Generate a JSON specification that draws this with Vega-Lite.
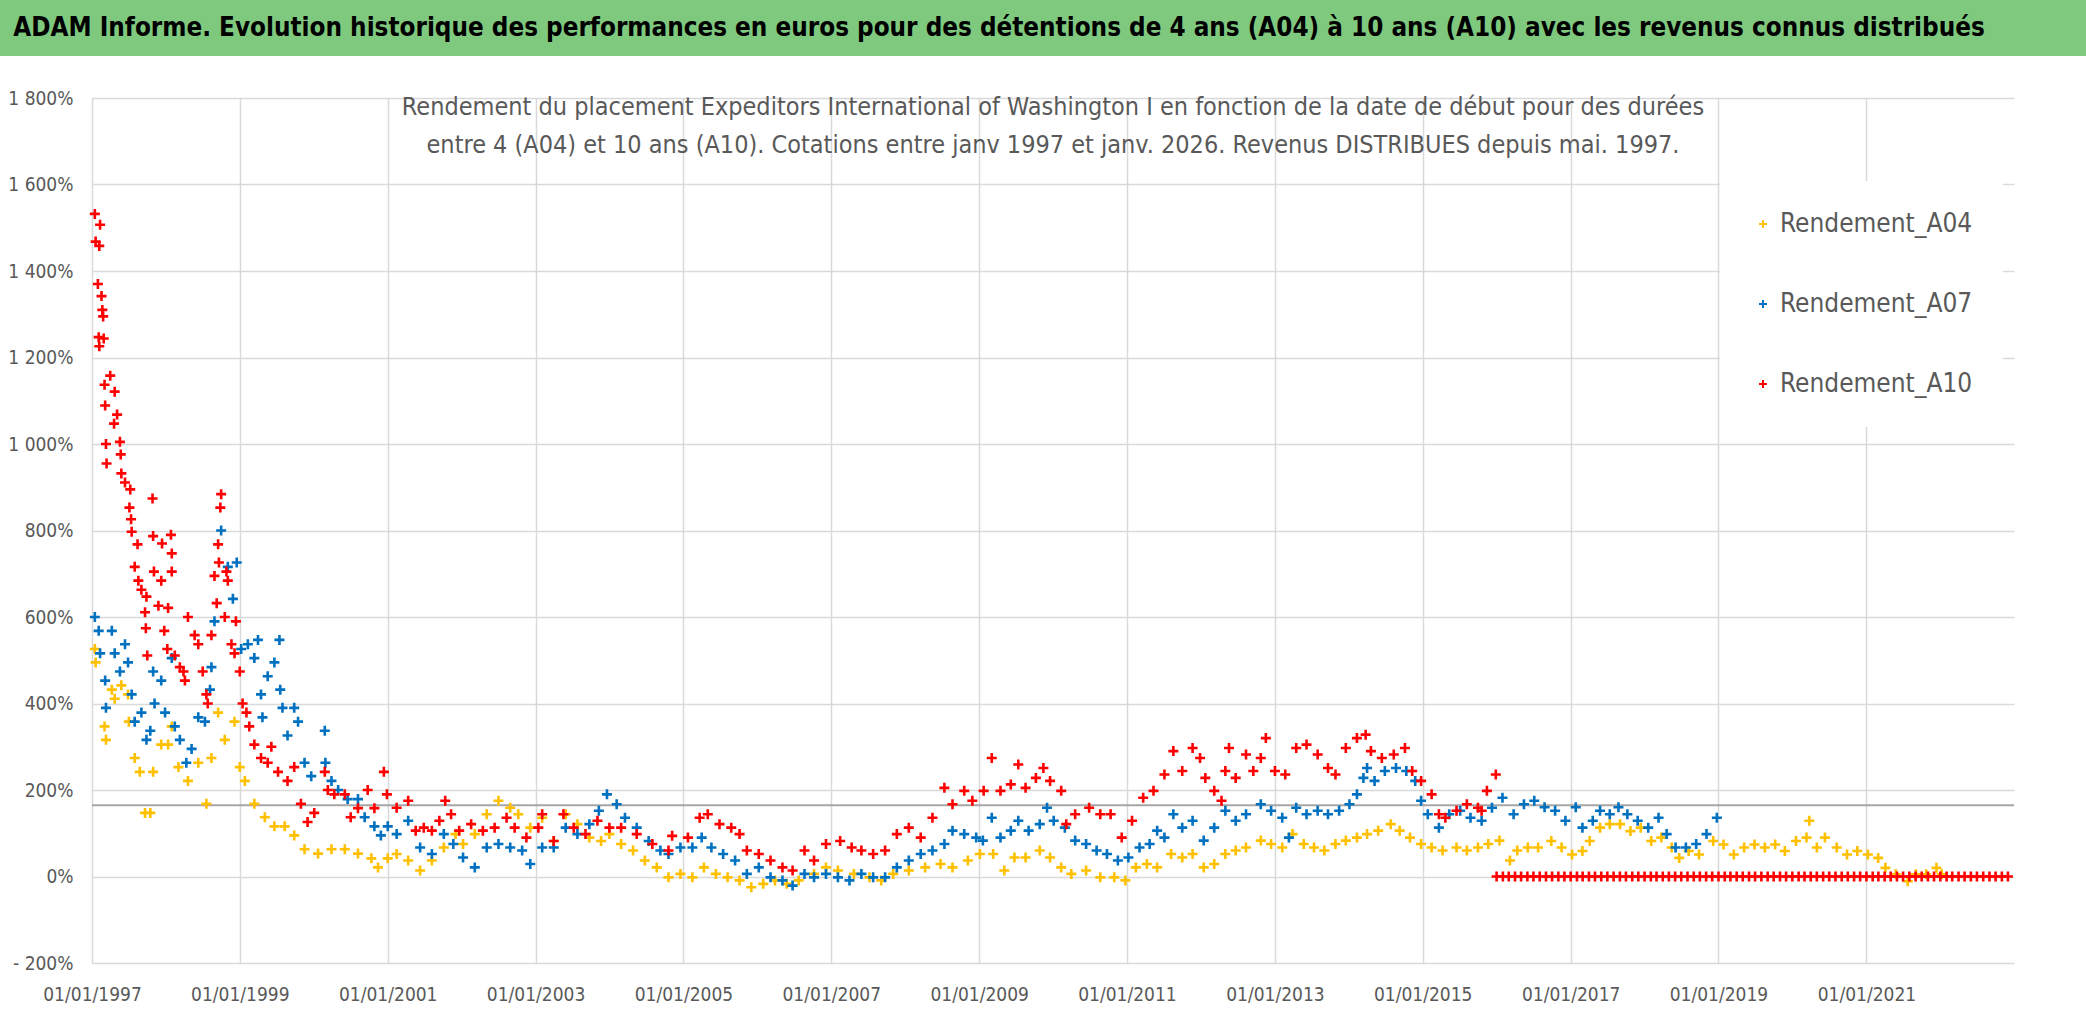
{
  "$schema": "https://vega.github.io/schema/vega-lite/v6.json",
  "padding": 0,
  "background": "white",
  "spacing": 42,
  "bounds": "flush",
  "center": true,
  "config": {
    "view": {"stroke": null},
    "font": "DejaVu Sans Condensed"
  },
  "datasets": {
    "returns": [
      {"d":"1997-01-15","s":"A04","v":526},{"d":"1997-01-19","s":"A04","v":495},{"d":"1997-03-04","s":"A04","v":347},{"d":"1997-03-11","s":"A04","v":316},{"d":"1997-04-09","s":"A04","v":432},{"d":"1997-04-23","s":"A04","v":411},{"d":"1997-05-26","s":"A04","v":442},{"d":"1997-06-28","s":"A04","v":421},{"d":"1997-07-02","s":"A04","v":358},{"d":"1997-07-31","s":"A04","v":274},{"d":"1997-08-25","s":"A04","v":242},{"d":"1997-09-20","s":"A04","v":147},{"d":"1997-10-16","s":"A04","v":147},{"d":"1997-10-30","s":"A04","v":242},{"d":"1997-12-09","s":"A04","v":305},{"d":"1998-01-12","s":"A04","v":305},{"d":"1998-01-30","s":"A04","v":347},{"d":"1998-03-04","s":"A04","v":253},{"d":"1998-04-20","s":"A04","v":221},{"d":"1998-06-10","s":"A04","v":263},{"d":"1998-07-20","s":"A04","v":168},{"d":"1998-08-14","s":"A04","v":274},{"d":"1998-09-16","s":"A04","v":379},{"d":"1998-10-19","s":"A04","v":316},{"d":"1998-12-06","s":"A04","v":358},{"d":"1999-01-01","s":"A04","v":253},{"d":"1999-01-26","s":"A04","v":221},{"d":"1999-03-14","s":"A04","v":168},{"d":"1999-05-05","s":"A04","v":137},{"d":"1999-06-21","s":"A04","v":116},{"d":"1999-08-11","s":"A04","v":116},{"d":"1999-09-27","s":"A04","v":95},{"d":"1999-11-17","s":"A04","v":63},{"d":"2000-01-23","s":"A04","v":53},{"d":"2000-03-29","s":"A04","v":63},{"d":"2000-06-03","s":"A04","v":63},{"d":"2000-08-07","s":"A04","v":53},{"d":"2000-10-12","s":"A04","v":42},{"d":"2000-11-14","s":"A04","v":21},{"d":"2001-01-01","s":"A04","v":42},{"d":"2001-02-14","s":"A04","v":52},{"d":"2001-04-12","s":"A04","v":37},{"d":"2001-06-10","s":"A04","v":14},{"d":"2001-08-07","s":"A04","v":37},{"d":"2001-10-05","s":"A04","v":67},{"d":"2001-12-02","s":"A04","v":98},{"d":"2002-01-08","s":"A04","v":75},{"d":"2002-03-07","s":"A04","v":98},{"d":"2002-05-05","s":"A04","v":144},{"d":"2002-07-02","s":"A04","v":175},{"d":"2002-08-29","s":"A04","v":159},{"d":"2002-10-08","s":"A04","v":144},{"d":"2002-12-06","s":"A04","v":113},{"d":"2003-02-03","s":"A04","v":136},{"d":"2003-04-01","s":"A04","v":82},{"d":"2003-05-30","s":"A04","v":144},{"d":"2003-07-27","s":"A04","v":121},{"d":"2003-09-24","s":"A04","v":90},{"d":"2003-11-21","s":"A04","v":82},{"d":"2004-01-01","s":"A04","v":98},{"d":"2004-02-28","s":"A04","v":75},{"d":"2004-04-27","s":"A04","v":60},{"d":"2004-06-24","s":"A04","v":37},{"d":"2004-08-22","s":"A04","v":21},{"d":"2004-10-19","s":"A04","v":-2},{"d":"2004-12-17","s":"A04","v":6},{"d":"2005-02-14","s":"A04","v":-2},{"d":"2005-04-12","s":"A04","v":21},{"d":"2005-06-10","s":"A04","v":6},{"d":"2005-08-07","s":"A04","v":-2},{"d":"2005-10-05","s":"A04","v":-9},{"d":"2005-12-02","s":"A04","v":-25},{"d":"2006-01-30","s":"A04","v":-17},{"d":"2006-03-29","s":"A04","v":-9},{"d":"2006-05-26","s":"A04","v":-17},{"d":"2006-07-24","s":"A04","v":-9},{"d":"2006-10-08","s":"A04","v":6},{"d":"2006-12-06","s":"A04","v":21},{"d":"2007-02-03","s":"A04","v":14},{"d":"2007-04-23","s":"A04","v":6},{"d":"2007-07-09","s":"A04","v":-2},{"d":"2007-09-05","s":"A04","v":-9},{"d":"2007-11-03","s":"A04","v":6},{"d":"2008-01-19","s":"A04","v":14},{"d":"2008-04-09","s":"A04","v":21},{"d":"2008-06-24","s":"A04","v":29},{"d":"2008-08-22","s":"A04","v":21},{"d":"2008-11-06","s":"A04","v":37},{"d":"2009-01-04","s":"A04","v":52},{"d":"2009-03-11","s":"A04","v":52},{"d":"2009-05-05","s":"A04","v":14},{"d":"2009-06-24","s":"A04","v":44},{"d":"2009-08-18","s":"A04","v":44},{"d":"2009-10-27","s":"A04","v":60},{"d":"2009-12-17","s":"A04","v":44},{"d":"2010-02-10","s":"A04","v":21},{"d":"2010-04-01","s":"A04","v":6},{"d":"2010-06-13","s":"A04","v":14},{"d":"2010-08-22","s":"A04","v":-2},{"d":"2010-10-30","s":"A04","v":-2},{"d":"2010-12-24","s":"A04","v":-9},{"d":"2011-02-14","s":"A04","v":21},{"d":"2011-04-09","s":"A04","v":29},{"d":"2011-05-30","s":"A04","v":21},{"d":"2011-08-07","s":"A04","v":52},{"d":"2011-10-01","s":"A04","v":44},{"d":"2011-11-21","s":"A04","v":52},{"d":"2012-01-15","s":"A04","v":21},{"d":"2012-03-07","s":"A04","v":29},{"d":"2012-05-01","s":"A04","v":52},{"d":"2012-06-21","s":"A04","v":60},{"d":"2012-08-11","s":"A04","v":67},{"d":"2012-10-23","s":"A04","v":83},{"d":"2012-12-13","s":"A04","v":75},{"d":"2013-02-06","s":"A04","v":67},{"d":"2013-03-29","s":"A04","v":98},{"d":"2013-05-23","s":"A04","v":75},{"d":"2013-07-13","s":"A04","v":67},{"d":"2013-09-02","s":"A04","v":60},{"d":"2013-10-27","s":"A04","v":75},{"d":"2013-12-17","s":"A04","v":83},{"d":"2014-02-10","s":"A04","v":90},{"d":"2014-04-01","s":"A04","v":98},{"d":"2014-05-26","s":"A04","v":106},{"d":"2014-07-27","s":"A04","v":121},{"d":"2014-09-09","s":"A04","v":106},{"d":"2014-10-30","s":"A04","v":90},{"d":"2014-12-24","s":"A04","v":75},{"d":"2015-02-14","s":"A04","v":67},{"d":"2015-04-09","s":"A04","v":60},{"d":"2015-06-17","s":"A04","v":67},{"d":"2015-08-07","s":"A04","v":60},{"d":"2015-10-01","s":"A04","v":67},{"d":"2015-11-21","s":"A04","v":75},{"d":"2016-01-15","s":"A04","v":83},{"d":"2016-03-07","s":"A04","v":37},{"d":"2016-04-12","s":"A04","v":60},{"d":"2016-06-03","s":"A04","v":67},{"d":"2016-07-24","s":"A04","v":67},{"d":"2016-09-27","s":"A04","v":82},{"d":"2016-11-17","s":"A04","v":67},{"d":"2017-01-08","s":"A04","v":51},{"d":"2017-02-28","s":"A04","v":59},{"d":"2017-04-05","s":"A04","v":82},{"d":"2017-05-26","s":"A04","v":113},{"d":"2017-07-13","s":"A04","v":121},{"d":"2017-09-02","s":"A04","v":121},{"d":"2017-10-23","s":"A04","v":105},{"d":"2017-12-13","s":"A04","v":113},{"d":"2018-02-03","s":"A04","v":82},{"d":"2018-03-25","s":"A04","v":90},{"d":"2018-05-15","s":"A04","v":67},{"d":"2018-06-21","s":"A04","v":43},{"d":"2018-08-07","s":"A04","v":59},{"d":"2018-09-27","s":"A04","v":51},{"d":"2018-12-06","s":"A04","v":82},{"d":"2019-01-26","s":"A04","v":74},{"d":"2019-03-18","s":"A04","v":51},{"d":"2019-05-08","s":"A04","v":67},{"d":"2019-06-28","s":"A04","v":74},{"d":"2019-08-18","s":"A04","v":67},{"d":"2019-10-08","s":"A04","v":74},{"d":"2019-11-25","s":"A04","v":59},{"d":"2020-01-19","s":"A04","v":82},{"d":"2020-03-11","s":"A04","v":90},{"d":"2020-03-25","s":"A04","v":129},{"d":"2020-05-01","s":"A04","v":67},{"d":"2020-06-10","s":"A04","v":90},{"d":"2020-08-07","s":"A04","v":67},{"d":"2020-09-27","s":"A04","v":51},{"d":"2020-11-17","s":"A04","v":59},{"d":"2021-01-08","s":"A04","v":51},{"d":"2021-02-28","s":"A04","v":43},{"d":"2021-04-05","s":"A04","v":20},{"d":"2021-05-26","s":"A04","v":5},{"d":"2021-07-24","s":"A04","v":-11},{"d":"2021-09-02","s":"A04","v":5},{"d":"2021-10-23","s":"A04","v":5},{"d":"2021-12-13","s":"A04","v":20},{"d":"2022-01-08","s":"A04","v":5},
      {"d":"1997-01-15","s":"A07","v":600},{"d":"1997-02-03","s":"A07","v":568},{"d":"1997-02-10","s":"A07","v":516},{"d":"1997-03-07","s":"A07","v":453},{"d":"1997-03-11","s":"A07","v":390},{"d":"1997-04-09","s":"A07","v":568},{"d":"1997-04-23","s":"A07","v":516},{"d":"1997-05-19","s":"A07","v":474},{"d":"1997-06-13","s":"A07","v":537},{"d":"1997-06-28","s":"A07","v":495},{"d":"1997-07-16","s":"A07","v":421},{"d":"1997-07-31","s":"A07","v":358},{"d":"1997-09-02","s":"A07","v":379},{"d":"1997-09-27","s":"A07","v":316},{"d":"1997-10-16","s":"A07","v":337},{"d":"1997-10-30","s":"A07","v":474},{"d":"1997-11-06","s":"A07","v":400},{"d":"1997-12-09","s":"A07","v":453},{"d":"1997-12-28","s":"A07","v":379},{"d":"1998-01-30","s":"A07","v":505},{"d":"1998-02-14","s":"A07","v":347},{"d":"1998-03-11","s":"A07","v":316},{"d":"1998-04-12","s":"A07","v":263},{"d":"1998-05-08","s":"A07","v":295},{"d":"1998-06-10","s":"A07","v":368},{"d":"1998-07-13","s":"A07","v":358},{"d":"1998-08-07","s":"A07","v":432},{"d":"1998-08-14","s":"A07","v":484},{"d":"1998-08-29","s":"A07","v":590},{"d":"1998-10-01","s":"A07","v":800},{"d":"1998-11-03","s":"A07","v":716},{"d":"1998-11-28","s":"A07","v":642},{"d":"1998-12-17","s":"A07","v":726},{"d":"1999-01-08","s":"A07","v":526},{"d":"1999-02-10","s":"A07","v":537},{"d":"1999-03-14","s":"A07","v":505},{"d":"1999-04-01","s":"A07","v":547},{"d":"1999-04-16","s":"A07","v":421},{"d":"1999-04-23","s":"A07","v":368},{"d":"1999-05-19","s":"A07","v":463},{"d":"1999-06-21","s":"A07","v":495},{"d":"1999-07-16","s":"A07","v":547},{"d":"1999-07-20","s":"A07","v":432},{"d":"1999-07-31","s":"A07","v":390},{"d":"1999-08-25","s":"A07","v":326},{"d":"1999-09-27","s":"A07","v":390},{"d":"1999-10-16","s":"A07","v":358},{"d":"1999-11-17","s":"A07","v":263},{"d":"1999-12-20","s":"A07","v":232},{"d":"2000-02-25","s":"A07","v":337},{"d":"2000-02-28","s":"A07","v":263},{"d":"2000-03-29","s":"A07","v":221},{"d":"2000-05-01","s":"A07","v":200},{"d":"2000-06-17","s":"A07","v":179},{"d":"2000-08-07","s":"A07","v":179},{"d":"2000-09-09","s":"A07","v":137},{"d":"2000-10-27","s":"A07","v":116},{"d":"2000-11-28","s":"A07","v":95},{"d":"2001-01-01","s":"A07","v":116},{"d":"2001-02-14","s":"A07","v":98},{"d":"2001-04-12","s":"A07","v":129},{"d":"2001-06-10","s":"A07","v":67},{"d":"2001-08-07","s":"A07","v":52},{"d":"2001-10-05","s":"A07","v":98},{"d":"2001-11-21","s":"A07","v":75},{"d":"2002-01-08","s":"A07","v":44},{"d":"2002-03-07","s":"A07","v":21},{"d":"2002-05-05","s":"A07","v":67},{"d":"2002-07-02","s":"A07","v":75},{"d":"2002-08-29","s":"A07","v":67},{"d":"2002-10-27","s":"A07","v":60},{"d":"2002-12-06","s":"A07","v":29},{"d":"2003-02-03","s":"A07","v":67},{"d":"2003-04-01","s":"A07","v":67},{"d":"2003-05-30","s":"A07","v":113},{"d":"2003-07-27","s":"A07","v":98},{"d":"2003-09-24","s":"A07","v":121},{"d":"2003-11-10","s":"A07","v":152},{"d":"2003-12-20","s":"A07","v":190},{"d":"2004-02-06","s":"A07","v":167},{"d":"2004-03-18","s":"A07","v":136},{"d":"2004-05-15","s":"A07","v":113},{"d":"2004-07-13","s":"A07","v":82},{"d":"2004-09-09","s":"A07","v":60},{"d":"2004-10-19","s":"A07","v":52},{"d":"2004-12-17","s":"A07","v":67},{"d":"2005-02-14","s":"A07","v":67},{"d":"2005-04-01","s":"A07","v":90},{"d":"2005-05-19","s":"A07","v":67},{"d":"2005-07-16","s":"A07","v":52},{"d":"2005-09-13","s":"A07","v":37},{"d":"2005-11-10","s":"A07","v":6},{"d":"2006-01-08","s":"A07","v":21},{"d":"2006-03-07","s":"A07","v":-2},{"d":"2006-05-05","s":"A07","v":-9},{"d":"2006-06-24","s":"A07","v":-21},{"d":"2006-08-22","s":"A07","v":6},{"d":"2006-10-08","s":"A07","v":-2},{"d":"2006-12-06","s":"A07","v":6},{"d":"2007-02-03","s":"A07","v":-2},{"d":"2007-04-01","s":"A07","v":-9},{"d":"2007-05-30","s":"A07","v":6},{"d":"2007-07-27","s":"A07","v":-2},{"d":"2007-09-24","s":"A07","v":-2},{"d":"2007-11-21","s":"A07","v":21},{"d":"2008-01-19","s":"A07","v":37},{"d":"2008-03-18","s":"A07","v":52},{"d":"2008-05-15","s":"A07","v":60},{"d":"2008-07-13","s":"A07","v":75},{"d":"2008-08-22","s":"A07","v":106},{"d":"2008-10-19","s":"A07","v":98},{"d":"2008-12-17","s":"A07","v":90},{"d":"2009-01-19","s":"A07","v":83},{"d":"2009-03-04","s":"A07","v":136},{"d":"2009-04-16","s":"A07","v":90},{"d":"2009-06-06","s":"A07","v":106},{"d":"2009-07-13","s":"A07","v":129},{"d":"2009-09-02","s":"A07","v":106},{"d":"2009-10-27","s":"A07","v":121},{"d":"2009-12-02","s":"A07","v":159},{"d":"2010-01-04","s":"A07","v":129},{"d":"2010-02-28","s":"A07","v":113},{"d":"2010-04-20","s":"A07","v":83},{"d":"2010-06-13","s":"A07","v":75},{"d":"2010-08-04","s":"A07","v":60},{"d":"2010-09-24","s":"A07","v":52},{"d":"2010-11-17","s":"A07","v":37},{"d":"2011-01-08","s":"A07","v":44},{"d":"2011-03-04","s":"A07","v":67},{"d":"2011-04-23","s":"A07","v":75},{"d":"2011-05-30","s":"A07","v":106},{"d":"2011-07-05","s":"A07","v":90},{"d":"2011-08-18","s":"A07","v":144},{"d":"2011-10-01","s":"A07","v":113},{"d":"2011-11-21","s":"A07","v":129},{"d":"2012-01-15","s":"A07","v":83},{"d":"2012-03-07","s":"A07","v":113},{"d":"2012-05-01","s":"A07","v":152},{"d":"2012-06-21","s":"A07","v":129},{"d":"2012-08-11","s":"A07","v":144},{"d":"2012-10-23","s":"A07","v":167},{"d":"2012-12-13","s":"A07","v":152},{"d":"2013-02-06","s":"A07","v":136},{"d":"2013-03-11","s":"A07","v":90},{"d":"2013-04-16","s":"A07","v":159},{"d":"2013-06-06","s":"A07","v":144},{"d":"2013-07-31","s":"A07","v":152},{"d":"2013-09-20","s":"A07","v":144},{"d":"2013-11-14","s":"A07","v":152},{"d":"2014-01-04","s":"A07","v":167},{"d":"2014-02-10","s":"A07","v":190},{"d":"2014-03-14","s":"A07","v":228},{"d":"2014-04-01","s":"A07","v":251},{"d":"2014-05-08","s":"A07","v":221},{"d":"2014-06-28","s":"A07","v":244},{"d":"2014-08-22","s":"A07","v":251},{"d":"2014-10-12","s":"A07","v":244},{"d":"2014-11-25","s":"A07","v":221},{"d":"2014-12-24","s":"A07","v":175},{"d":"2015-01-26","s":"A07","v":144},{"d":"2015-03-22","s":"A07","v":113},{"d":"2015-05-12","s":"A07","v":144},{"d":"2015-07-05","s":"A07","v":152},{"d":"2015-08-25","s":"A07","v":136},{"d":"2015-10-19","s":"A07","v":129},{"d":"2015-12-09","s":"A07","v":159},{"d":"2016-01-30","s":"A07","v":182},{"d":"2016-03-25","s":"A07","v":144},{"d":"2016-05-15","s":"A07","v":167},{"d":"2016-07-05","s":"A07","v":175},{"d":"2016-08-25","s":"A07","v":160},{"d":"2016-10-16","s":"A07","v":152},{"d":"2016-12-06","s":"A07","v":129},{"d":"2017-01-26","s":"A07","v":160},{"d":"2017-02-28","s":"A07","v":113},{"d":"2017-04-20","s":"A07","v":129},{"d":"2017-05-26","s":"A07","v":152},{"d":"2017-07-13","s":"A07","v":144},{"d":"2017-08-25","s":"A07","v":160},{"d":"2017-10-08","s":"A07","v":144},{"d":"2017-11-28","s":"A07","v":129},{"d":"2018-01-19","s":"A07","v":113},{"d":"2018-03-11","s":"A07","v":136},{"d":"2018-04-20","s":"A07","v":98},{"d":"2018-06-03","s":"A07","v":67},{"d":"2018-07-24","s":"A07","v":67},{"d":"2018-09-13","s":"A07","v":75},{"d":"2018-11-03","s":"A07","v":98},{"d":"2018-12-24","s":"A07","v":136},
      {"d":"1997-01-15","s":"A10","v":1532},{"d":"1997-01-19","s":"A10","v":1468},{"d":"1997-01-30","s":"A10","v":1370},{"d":"1997-02-03","s":"A10","v":1247},{"d":"1997-02-06","s":"A10","v":1458},{"d":"1997-02-06","s":"A10","v":1226},{"d":"1997-02-10","s":"A10","v":1507},{"d":"1997-02-17","s":"A10","v":1342},{"d":"1997-02-21","s":"A10","v":1310},{"d":"1997-02-25","s":"A10","v":1295},{"d":"1997-02-28","s":"A10","v":1244},{"d":"1997-03-04","s":"A10","v":1137},{"d":"1997-03-07","s":"A10","v":1089},{"d":"1997-03-11","s":"A10","v":1000},{"d":"1997-03-14","s":"A10","v":955},{"d":"1997-04-01","s":"A10","v":1158},{"d":"1997-04-20","s":"A10","v":1047},{"d":"1997-04-23","s":"A10","v":1121},{"d":"1997-05-05","s":"A10","v":1068},{"d":"1997-05-19","s":"A10","v":1005},{"d":"1997-05-23","s":"A10","v":976},{"d":"1997-05-26","s":"A10","v":932},{"d":"1997-06-13","s":"A10","v":911},{"d":"1997-07-05","s":"A10","v":853},{"d":"1997-07-09","s":"A10","v":895},{"d":"1997-07-13","s":"A10","v":826},{"d":"1997-07-16","s":"A10","v":797},{"d":"1997-07-31","s":"A10","v":716},{"d":"1997-08-14","s":"A10","v":768},{"d":"1997-08-18","s":"A10","v":684},{"d":"1997-09-02","s":"A10","v":663},{"d":"1997-09-20","s":"A10","v":611},{"d":"1997-09-24","s":"A10","v":574},{"d":"1997-09-27","s":"A10","v":647},{"d":"1997-10-01","s":"A10","v":511},{"d":"1997-10-27","s":"A10","v":874},{"d":"1997-10-30","s":"A10","v":787},{"d":"1997-11-03","s":"A10","v":705},{"d":"1997-11-25","s":"A10","v":626},{"d":"1997-12-09","s":"A10","v":684},{"d":"1997-12-13","s":"A10","v":770},{"d":"1997-12-24","s":"A10","v":568},{"d":"1998-01-08","s":"A10","v":526},{"d":"1998-01-12","s":"A10","v":621},{"d":"1998-01-26","s":"A10","v":790},{"d":"1998-01-30","s":"A10","v":747},{"d":"1998-01-30","s":"A10","v":705},{"d":"1998-02-14","s":"A10","v":511},{"d":"1998-03-11","s":"A10","v":484},{"d":"1998-03-29","s":"A10","v":474},{"d":"1998-04-05","s":"A10","v":453},{"d":"1998-04-20","s":"A10","v":600},{"d":"1998-05-23","s":"A10","v":558},{"d":"1998-06-10","s":"A10","v":537},{"d":"1998-07-02","s":"A10","v":474},{"d":"1998-07-20","s":"A10","v":421},{"d":"1998-07-27","s":"A10","v":400},{"d":"1998-08-14","s":"A10","v":558},{"d":"1998-08-29","s":"A10","v":695},{"d":"1998-09-09","s":"A10","v":632},{"d":"1998-09-16","s":"A10","v":768},{"d":"1998-09-20","s":"A10","v":726},{"d":"1998-09-27","s":"A10","v":853},{"d":"1998-10-01","s":"A10","v":884},{"d":"1998-10-19","s":"A10","v":600},{"d":"1998-10-27","s":"A10","v":705},{"d":"1998-11-03","s":"A10","v":684},{"d":"1998-11-21","s":"A10","v":537},{"d":"1998-12-06","s":"A10","v":516},{"d":"1998-12-13","s":"A10","v":590},{"d":"1999-01-01","s":"A10","v":474},{"d":"1999-01-15","s":"A10","v":400},{"d":"1999-02-03","s":"A10","v":379},{"d":"1999-02-17","s":"A10","v":347},{"d":"1999-03-14","s":"A10","v":305},{"d":"1999-04-16","s":"A10","v":274},{"d":"1999-05-19","s":"A10","v":263},{"d":"1999-06-06","s":"A10","v":300},{"d":"1999-07-09","s":"A10","v":242},{"d":"1999-08-25","s":"A10","v":221},{"d":"1999-09-27","s":"A10","v":253},{"d":"1999-10-30","s":"A10","v":168},{"d":"1999-12-02","s":"A10","v":126},{"d":"2000-01-04","s":"A10","v":147},{"d":"2000-02-25","s":"A10","v":242},{"d":"2000-03-11","s":"A10","v":200},{"d":"2000-04-12","s":"A10","v":190},{"d":"2000-06-03","s":"A10","v":190},{"d":"2000-07-02","s":"A10","v":137},{"d":"2000-08-07","s":"A10","v":158},{"d":"2000-09-24","s":"A10","v":200},{"d":"2000-10-27","s":"A10","v":158},{"d":"2000-12-13","s":"A10","v":242},{"d":"2000-12-28","s":"A10","v":190},{"d":"2001-02-14","s":"A10","v":159},{"d":"2001-04-12","s":"A10","v":175},{"d":"2001-05-19","s":"A10","v":106},{"d":"2001-06-28","s":"A10","v":113},{"d":"2001-08-07","s":"A10","v":106},{"d":"2001-09-13","s":"A10","v":129},{"d":"2001-10-12","s":"A10","v":175},{"d":"2001-11-10","s":"A10","v":144},{"d":"2001-12-20","s":"A10","v":106},{"d":"2002-02-17","s":"A10","v":121},{"d":"2002-04-16","s":"A10","v":106},{"d":"2002-06-13","s":"A10","v":113},{"d":"2002-08-11","s":"A10","v":136},{"d":"2002-09-20","s":"A10","v":113},{"d":"2002-11-17","s":"A10","v":90},{"d":"2003-01-15","s":"A10","v":113},{"d":"2003-02-03","s":"A10","v":144},{"d":"2003-04-01","s":"A10","v":82},{"d":"2003-05-19","s":"A10","v":144},{"d":"2003-07-09","s":"A10","v":113},{"d":"2003-09-05","s":"A10","v":98},{"d":"2003-11-03","s":"A10","v":129},{"d":"2004-01-01","s":"A10","v":113},{"d":"2004-02-28","s":"A10","v":113},{"d":"2004-05-15","s":"A10","v":98},{"d":"2004-07-31","s":"A10","v":75},{"d":"2004-10-19","s":"A10","v":60},{"d":"2004-11-06","s":"A10","v":94},{"d":"2005-01-23","s":"A10","v":90},{"d":"2005-03-22","s":"A10","v":136},{"d":"2005-05-01","s":"A10","v":144},{"d":"2005-06-28","s":"A10","v":121},{"d":"2005-08-25","s":"A10","v":113},{"d":"2005-10-05","s":"A10","v":98},{"d":"2005-11-10","s":"A10","v":60},{"d":"2006-01-08","s":"A10","v":52},{"d":"2006-03-07","s":"A10","v":37},{"d":"2006-05-05","s":"A10","v":21},{"d":"2006-06-24","s":"A10","v":14},{"d":"2006-08-22","s":"A10","v":60},{"d":"2006-10-08","s":"A10","v":37},{"d":"2006-12-06","s":"A10","v":75},{"d":"2007-02-14","s":"A10","v":82},{"d":"2007-04-12","s":"A10","v":67},{"d":"2007-05-30","s":"A10","v":60},{"d":"2007-07-27","s":"A10","v":52},{"d":"2007-09-24","s":"A10","v":60},{"d":"2007-11-21","s":"A10","v":98},{"d":"2008-01-19","s":"A10","v":113},{"d":"2008-03-18","s":"A10","v":90},{"d":"2008-05-15","s":"A10","v":136},{"d":"2008-07-13","s":"A10","v":205},{"d":"2008-08-22","s":"A10","v":167},{"d":"2008-10-19","s":"A10","v":198},{"d":"2008-11-28","s":"A10","v":175},{"d":"2009-01-23","s":"A10","v":198},{"d":"2009-03-04","s":"A10","v":274},{"d":"2009-04-16","s":"A10","v":198},{"d":"2009-06-06","s":"A10","v":213},{"d":"2009-07-13","s":"A10","v":259},{"d":"2009-08-18","s":"A10","v":205},{"d":"2009-10-08","s":"A10","v":228},{"d":"2009-11-14","s":"A10","v":251},{"d":"2009-12-17","s":"A10","v":221},{"d":"2010-02-10","s":"A10","v":198},{"d":"2010-03-07","s":"A10","v":121},{"d":"2010-04-20","s":"A10","v":144},{"d":"2010-06-28","s":"A10","v":159},{"d":"2010-08-22","s":"A10","v":144},{"d":"2010-10-12","s":"A10","v":144},{"d":"2010-12-06","s":"A10","v":90},{"d":"2011-01-26","s":"A10","v":129},{"d":"2011-03-22","s":"A10","v":182},{"d":"2011-05-12","s":"A10","v":198},{"d":"2011-07-05","s":"A10","v":236},{"d":"2011-08-18","s":"A10","v":290},{"d":"2011-10-01","s":"A10","v":244},{"d":"2011-11-21","s":"A10","v":297},{"d":"2011-12-28","s":"A10","v":274},{"d":"2012-01-23","s":"A10","v":228},{"d":"2012-03-07","s":"A10","v":198},{"d":"2012-04-12","s":"A10","v":175},{"d":"2012-05-01","s":"A10","v":244},{"d":"2012-05-19","s":"A10","v":297},{"d":"2012-06-21","s":"A10","v":228},{"d":"2012-08-11","s":"A10","v":282},{"d":"2012-09-16","s":"A10","v":244},{"d":"2012-10-23","s":"A10","v":274},{"d":"2012-11-17","s":"A10","v":320},{"d":"2013-01-01","s":"A10","v":244},{"d":"2013-02-21","s":"A10","v":236},{"d":"2013-04-16","s":"A10","v":297},{"d":"2013-06-06","s":"A10","v":305},{"d":"2013-07-31","s":"A10","v":282},{"d":"2013-09-20","s":"A10","v":251},{"d":"2013-10-27","s":"A10","v":236},{"d":"2013-12-17","s":"A10","v":297},{"d":"2014-02-10","s":"A10","v":320},{"d":"2014-03-25","s":"A10","v":328},{"d":"2014-04-20","s":"A10","v":290},{"d":"2014-06-13","s":"A10","v":274},{"d":"2014-08-11","s":"A10","v":282},{"d":"2014-10-05","s":"A10","v":297},{"d":"2014-11-10","s":"A10","v":244},{"d":"2014-12-24","s":"A10","v":221},{"d":"2015-02-14","s":"A10","v":190},{"d":"2015-03-22","s":"A10","v":144},{"d":"2015-04-23","s":"A10","v":136},{"d":"2015-06-17","s":"A10","v":152},{"d":"2015-08-07","s":"A10","v":167},{"d":"2015-10-01","s":"A10","v":159},{"d":"2015-10-19","s":"A10","v":152},{"d":"2015-11-14","s":"A10","v":198},{"d":"2015-12-28","s":"A10","v":236},
      {"d":"2016-01-01","s":"A10","v":0},{"d":"2016-02-01","s":"A10","v":0},{"d":"2016-03-01","s":"A10","v":0},{"d":"2016-04-01","s":"A10","v":0},{"d":"2016-05-01","s":"A10","v":0},{"d":"2016-06-01","s":"A10","v":0},{"d":"2016-07-01","s":"A10","v":0},{"d":"2016-08-01","s":"A10","v":0},{"d":"2016-09-01","s":"A10","v":0},{"d":"2016-10-01","s":"A10","v":0},{"d":"2016-11-01","s":"A10","v":0},{"d":"2016-12-01","s":"A10","v":0},
      {"d":"2017-01-01","s":"A10","v":0},{"d":"2017-02-01","s":"A10","v":0},{"d":"2017-03-01","s":"A10","v":0},{"d":"2017-04-01","s":"A10","v":0},{"d":"2017-05-01","s":"A10","v":0},{"d":"2017-06-01","s":"A10","v":0},{"d":"2017-07-01","s":"A10","v":0},{"d":"2017-08-01","s":"A10","v":0},{"d":"2017-09-01","s":"A10","v":0},{"d":"2017-10-01","s":"A10","v":0},{"d":"2017-11-01","s":"A10","v":0},{"d":"2017-12-01","s":"A10","v":0},
      {"d":"2018-01-01","s":"A10","v":0},{"d":"2018-02-01","s":"A10","v":0},{"d":"2018-03-01","s":"A10","v":0},{"d":"2018-04-01","s":"A10","v":0},{"d":"2018-05-01","s":"A10","v":0},{"d":"2018-06-01","s":"A10","v":0},{"d":"2018-07-01","s":"A10","v":0},{"d":"2018-08-01","s":"A10","v":0},{"d":"2018-09-01","s":"A10","v":0},{"d":"2018-10-01","s":"A10","v":0},{"d":"2018-11-01","s":"A10","v":0},{"d":"2018-12-01","s":"A10","v":0},
      {"d":"2019-01-01","s":"A10","v":0},{"d":"2019-02-01","s":"A10","v":0},{"d":"2019-03-01","s":"A10","v":0},{"d":"2019-04-01","s":"A10","v":0},{"d":"2019-05-01","s":"A10","v":0},{"d":"2019-06-01","s":"A10","v":0},{"d":"2019-07-01","s":"A10","v":0},{"d":"2019-08-01","s":"A10","v":0},{"d":"2019-09-01","s":"A10","v":0},{"d":"2019-10-01","s":"A10","v":0},{"d":"2019-11-01","s":"A10","v":0},{"d":"2019-12-01","s":"A10","v":0},
      {"d":"2020-01-01","s":"A10","v":0},{"d":"2020-02-01","s":"A10","v":0},{"d":"2020-03-01","s":"A10","v":0},{"d":"2020-04-01","s":"A10","v":0},{"d":"2020-05-01","s":"A10","v":0},{"d":"2020-06-01","s":"A10","v":0},{"d":"2020-07-01","s":"A10","v":0},{"d":"2020-08-01","s":"A10","v":0},{"d":"2020-09-01","s":"A10","v":0},{"d":"2020-10-01","s":"A10","v":0},{"d":"2020-11-01","s":"A10","v":0},{"d":"2020-12-01","s":"A10","v":0},
      {"d":"2021-01-01","s":"A10","v":0},{"d":"2021-02-01","s":"A10","v":0},{"d":"2021-03-01","s":"A10","v":0},{"d":"2021-04-01","s":"A10","v":0},{"d":"2021-05-01","s":"A10","v":0},{"d":"2021-06-01","s":"A10","v":0},{"d":"2021-07-01","s":"A10","v":0},{"d":"2021-08-01","s":"A10","v":0},{"d":"2021-09-01","s":"A10","v":0},{"d":"2021-10-01","s":"A10","v":0},{"d":"2021-11-01","s":"A10","v":0},{"d":"2021-12-01","s":"A10","v":0},
      {"d":"2022-01-01","s":"A10","v":0},{"d":"2022-02-01","s":"A10","v":0},{"d":"2022-03-01","s":"A10","v":0},{"d":"2022-04-01","s":"A10","v":0},{"d":"2022-05-01","s":"A10","v":0},{"d":"2022-06-01","s":"A10","v":0},{"d":"2022-07-01","s":"A10","v":0},{"d":"2022-08-01","s":"A10","v":0},{"d":"2022-09-01","s":"A10","v":0},{"d":"2022-10-01","s":"A10","v":0},{"d":"2022-11-01","s":"A10","v":0},{"d":"2022-12-01","s":"A10","v":0}
    ]
  },
  "vconcat": [
    {
      "width": 2106,
      "height": 56,
      "view": {"fill": "#7FC97F", "stroke": null},
      "data": {"values": [{"t": "ADAM Informe. Evolution historique des performances en euros pour des détentions de 4 ans (A04) à 10 ans (A10) avec les revenus connus distribués"}]},
      "mark": {"type": "text", "fontSize": 25.8, "fontWeight": "bold", "color": "#000000", "align": "center", "baseline": "middle", "dx": -54},
      "encoding": {"text": {"field": "t", "type": "nominal"}}
    },
    {
      "width": 1922,
      "height": 865,
      "title": {
        "text": ["Rendement du placement Expeditors International of Washington I en fonction de la date de début pour des durées", "entre 4 (A04) et 10 ans (A10). Cotations entre janv 1997 et janv. 2026. Revenus DISTRIBUES depuis mai. 1997."],
        "anchor": "middle",
        "frame": "group",
        "offset": -69,
        "fontSize": 25,
        "fontWeight": "normal",
        "color": "#595959",
        "lineHeight": 38
      },
      "encoding": {
        "y": {
          "field": "v", "type": "quantitative",
          "scale": {"domain": [-200, 1800], "nice": false, "zero": false},
          "axis": {
            "title": null,
            "values": [-200, 0, 200, 400, 600, 800, 1000, 1200, 1400, 1600, 1800],
            "labelExpr": "(datum.value < 0 ? '- ' : '') + replace(format(abs(datum.value), ','), ',', ' ') + '%'",
            "grid": true, "gridColor": "#D9D9D9", "gridWidth": 1.5,
            "domain": false, "ticks": false,
            "labelFontSize": 19, "labelColor": "#595959", "labelPadding": 19,
            "minExtent": 92, "maxExtent": 92
          }
        }
      },
      "layer": [
        {
          "data": {"values": [{"v": 165}]},
          "mark": {"type": "rule", "color": "#A6A6A6", "strokeWidth": 2}
        },
        {
          "data": {"name": "returns"},
          "mark": {"type": "point", "shape": "M-1,0L1,0M0,-1L0,1", "filled": false, "size": 100, "strokeWidth": 2.6, "opacity": 1},
          "encoding": {
            "x": {
              "field": "d", "type": "temporal",
              "scale": {"type": "utc", "domain": [{"year": 1997, "month": 1, "date": 1, "utc": true}, {"year": 2022, "month": 12, "date": 31, "utc": true}], "nice": false},
              "axis": {
                "title": null, "format": "%d/%m/%Y",
                "values": [{"year": 1997, "month": 1, "date": 1, "utc": true}, {"year": 1999, "month": 1, "date": 1, "utc": true}, {"year": 2001, "month": 1, "date": 1, "utc": true}, {"year": 2003, "month": 1, "date": 1, "utc": true}, {"year": 2005, "month": 1, "date": 1, "utc": true}, {"year": 2007, "month": 1, "date": 1, "utc": true}, {"year": 2009, "month": 1, "date": 1, "utc": true}, {"year": 2011, "month": 1, "date": 1, "utc": true}, {"year": 2013, "month": 1, "date": 1, "utc": true}, {"year": 2015, "month": 1, "date": 1, "utc": true}, {"year": 2017, "month": 1, "date": 1, "utc": true}, {"year": 2019, "month": 1, "date": 1, "utc": true}, {"year": 2021, "month": 1, "date": 1, "utc": true}],
                "grid": true, "gridColor": "#D9D9D9", "gridWidth": 1.5,
                "domain": false, "ticks": false, "labelOverlap": false, "labelFlush": false,
                "labelFontSize": 19, "labelColor": "#595959", "labelPadding": 22
              }
            },
            "color": {
              "field": "s", "type": "nominal",
              "scale": {"domain": ["A04", "A07", "A10"], "range": ["#FFC000", "#0070C0", "#FF0000"]},
              "legend": {
                "title": null, "orient": "none", "legendX": 1720, "legendY": 181,
                "direction": "vertical", "fillColor": "#FFFFFF", "padding": 30, "rowPadding": 54,
                "labelFontSize": 26, "labelColor": "#595959", "labelOffset": 4, "labelLimit": 400,
                "symbolType": "M-1,0L1,0M0,-1L0,1", "symbolSize": 64, "symbolStrokeWidth": 2,
                "symbolFillColor": "transparent",
                "labelExpr": "'Rendement_' + datum.label"
              }
            }
          }
        }
      ]
    }
  ]
}
